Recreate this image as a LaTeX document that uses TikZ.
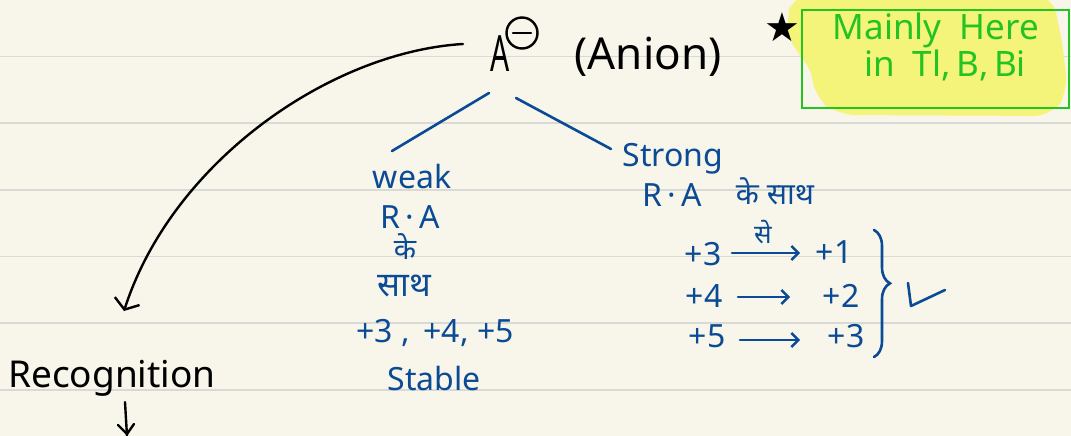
\documentclass[tikz,border=0pt]{standalone}
\usepackage{fontspec}
\setmainfont{Noto Sans}
\newfontfamily\hindi[Script=Devanagari]{Noto Sans}
\newfontfamily\symfont{DejaVu Sans}
\usetikzlibrary{arrows.meta,decorations.pathreplacing}
\definecolor{paper}{HTML}{F8F6EA}
\definecolor{rule}{HTML}{D9D9D6}
\definecolor{ink}{HTML}{0B4A94}
\definecolor{hlgreen}{HTML}{22C322}
\definecolor{hlyellow}{HTML}{F5F47A}
\tikzset{
  bluetxt/.style={text=ink, inner sep=0pt, font=\fontsize{32}{36}\selectfont},
  blacktxt/.style={text=black, inner sep=0pt},
  greentxt/.style={text=hlgreen, inner sep=0pt, font=\fontsize{35}{38}\selectfont},
  blueline/.style={draw=ink, line width=2.6pt, line cap=round},
  bluearrow/.style={blueline, -{Straight Barb[length=7pt,width=14pt,line width=2.4pt]}},
  ruleline/.style={draw=rule, line width=1.8pt},
}
\begin{document}
\begin{tikzpicture}[x=1pt,y=-1pt]
\useasboundingbox (0,0) rectangle (1071,436);
\fill[paper] (0,0) rectangle (1071,436);
% ruled lines
\foreach \yy in {56.5,123,190,256.5,323,390}{
  \draw[ruleline] (0,\yy) -- (1071,\yy);
}
% highlight blob
\fill[hlyellow, rounded corners=18pt] (793,-5) -- (1052,-5) -- (1062,40) -- (1068,92) -- (1052,116) -- (838,115) -- (815,98) -- (810,62) -- (790,48) -- (786,20) -- cycle;
\draw[hlgreen, line width=2.6pt] (802,10) rectangle (1069,108);
\node[greentxt, anchor=base] (mainly) at (936,40) {Mainly\ \ Here};
\node[greentxt, anchor=base] (inTl) at (945,77) {in\ \ Tl,\,B,\,Bi};
% star
\node[blacktxt, font=\symfont\fontsize{40}{44}\selectfont] (star) at (782,27) {★};
% anion
\node[blacktxt, anchor=base, font=\fontsize{50}{54}\selectfont, xscale=0.6] (A) at (500,72) {A};
\node[draw=black, line width=2.4pt, circle, minimum size=31pt, inner sep=0pt] (minus) at (522,33) {};
\draw[black, line width=2.4pt, line cap=round] ([xshift=-9pt]minus.center) -- ([xshift=9pt]minus.center);
\node[blacktxt, anchor=base, font=\fontsize{44}{50}\selectfont] (anion) at (648,70) {(Anion)};
% curved arrow to Recognition
\coordinate (cstart) at (463,44);
\coordinate (ctip) at (124,311);
\draw[black, line width=2.4pt, line cap=round, -{Straight Barb[length=9pt,width=26pt,line width=2.4pt]}] (cstart) .. controls (330,52) and (172,162) .. (ctip);
\node[blacktxt, anchor=base, font=\fontsize{37}{40}\selectfont] (recog) at (112,387) {Recognition};
\coordinate (rdown) at (127,436);
\draw[black, line width=2.4pt, line cap=round] (125,402) -- (rdown);
\draw[black, line width=2.4pt, line cap=round] (118,425) -- (127,434) -- (134,424);
% branches
\coordinate (bl1) at (489,93);
\coordinate (bl2) at (392,151);
\coordinate (br1) at (516,98);
\coordinate (br2) at (611,149);
\draw[blueline] (bl1) -- (bl2);
\draw[blueline] (br1) -- (br2);
% left column
\node[bluetxt, anchor=base] (weak) at (412,188) {weak};
\node[bluetxt, anchor=base] (ra1) at (410,228) {R\,·\,A};
\node[bluetxt, font=\hindi\fontsize{29}{32}\selectfont] (ke1) at (405,247) {के};
\node[bluetxt, font=\hindi\fontsize{34}{36}\selectfont] (sath1) at (404,286) {साथ};
\node[bluetxt, anchor=base] (ox) at (435,342) {+3\ ,\ \,+4,\ +5};
\node[bluetxt, anchor=base] (stable) at (434,390) {Stable};
% right column
\node[bluetxt, anchor=base] (strong) at (673,166) {Strong};
\node[bluetxt, anchor=base] (ra2) at (672,206) {R\,·\,A};
\node[bluetxt, font=\hindi\fontsize{30}{34}\selectfont] (kesath2) at (775,191) {के साथ};
% rows
\node[bluetxt, anchor=base] (p3a) at (703,265) {+3};
\node[bluetxt, anchor=base] (p1) at (834,263) {+1};
\coordinate (a1s) at (732,253);
\coordinate (a1e) at (800,253);
\draw[bluearrow] (a1s) -- (a1e);
\node[bluetxt, font=\hindi\fontsize{26}{30}\selectfont] (se) at (763,232) {से};
\node[bluetxt, anchor=base] (p4) at (704,307) {+4};
\node[bluetxt, anchor=base] (p2) at (841,307) {+2};
\coordinate (a2s) at (738,297);
\coordinate (a2e) at (790,297);
\draw[bluearrow] (a2s) -- (a2e);
\node[bluetxt, anchor=base] (p5) at (707,347) {+5};
\node[bluetxt, anchor=base] (p3b) at (846,347) {+3};
\coordinate (a3s) at (740,340);
\coordinate (a3e) at (800,340);
\draw[bluearrow] (a3s) -- (a3e);
% brace
\coordinate (bt) at (874,230);
\coordinate (bb) at (874,357);
\draw[ink, line width=2.6pt, line cap=round, decorate, decoration={brace, amplitude=16pt, aspect=0.42}] (bt) -- (bb);
% tick
\coordinate (t1) at (908,283);
\coordinate (t2) at (911,306);
\coordinate (t3) at (945,290);
\draw[blueline, line join=round] (t1) -- (t2) -- (t3);
\end{tikzpicture}
\end{document}
